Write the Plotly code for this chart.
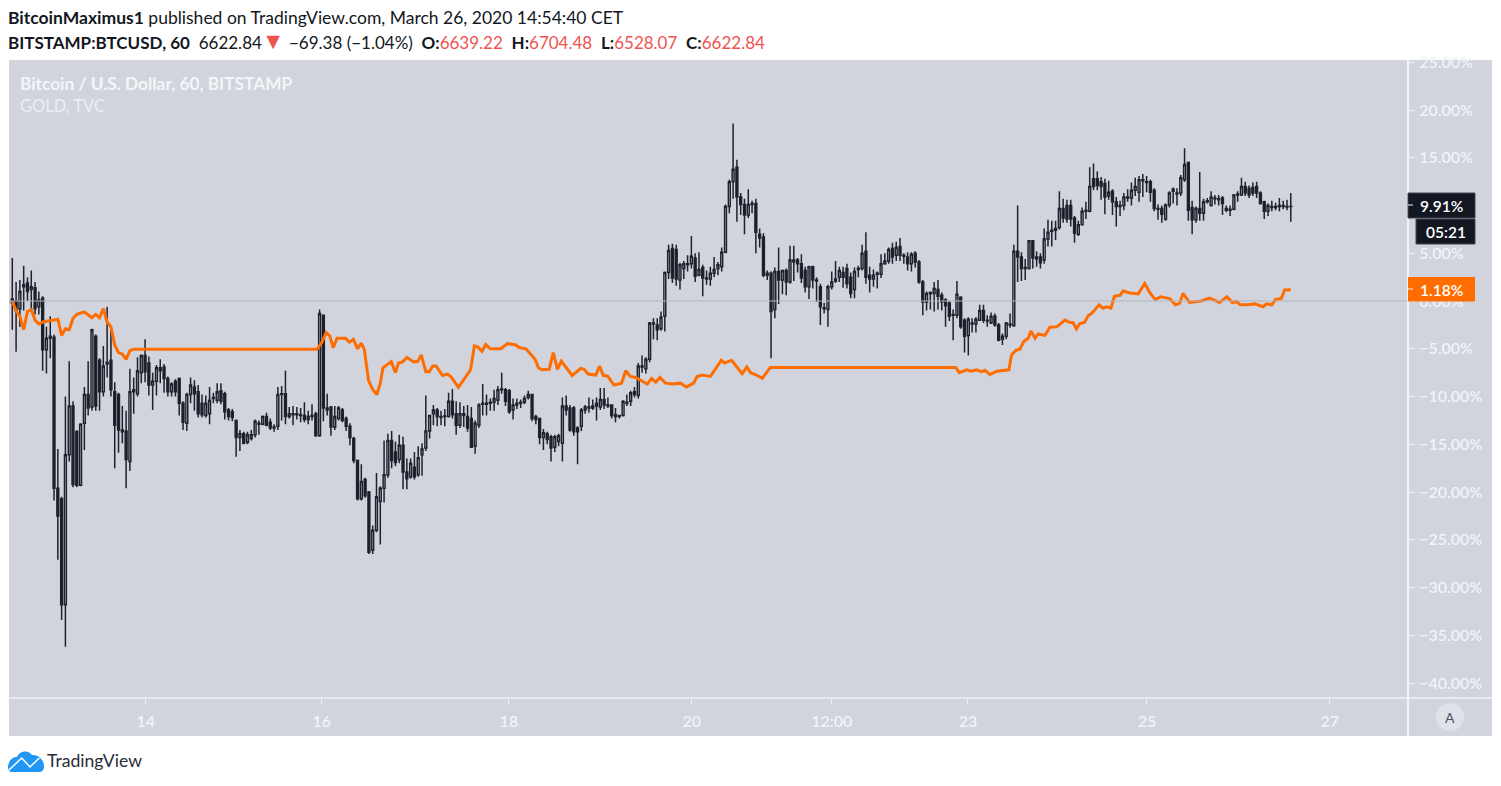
import plotly.graph_objects as go

# BTCUSD hourly candles, % change from first bar
bar_open = [
    -0.2, 0, -0.8, 1.5, 1.9, 1.2, 1.4, -0.6, 0.3, -5.1,
    -3.9, -3.8, -19.6, -20.7, -31.8, -16.1, -11, -13.7, -19.3, -12.8,
    -9.8, -11.1, -3.7, -6.2, -9.5, -6.6, -6.2, -9.5, -9.8, -13.5,
    -13.6, -16.8, -9.5, -9.7, -7.5, -5.7, -6.5, -8.8, -8.4, -7,
    -6.9, -8.1, -9.5, -8.4, -8.1, -10.7, -12.8, -9.8, -9, -9.5,
    -10.7, -12, -11.8, -10.2, -10.4, -9.4, -9.7, -11.4, -11.6, -12.5,
    -14.3, -13.9, -14.8, -14.4, -14, -12.9, -12.9, -12.1, -12.7, -13.3,
    -13.1, -9.8, -9.7, -12.1, -11.8, -11.9, -11.9, -12, -12.4, -12.1,
    -11.8, -14.1, -1.5, -11.2, -11.1, -13.2, -12.3, -11.4, -12.3, -13.1,
    -14.4, -16.7, -20.7, -18.7, -20, -26.1, -24, -21, -19.6, -18.2,
    -14.6, -15.8, -16.6, -15.1, -17.9, -18.4, -17.4, -18.2, -16.1, -15.4,
    -13.6, -11.8, -11.4, -12.1, -12.1, -12.1, -10.5, -11.8, -13, -12,
    -12.1, -12.3, -15.2, -13, -10.8, -10.7, -10.7, -10.6, -10.4, -9.2,
    -9.3, -9.4, -11.4, -10.9, -10.7, -10.6, -10.1, -9.8, -12.1, -12.3,
    -14.3, -13.9, -14.2, -15.3, -14.7, -14.9, -11, -11.2, -11.2, -13.3,
    -13.1, -11.4, -11.2, -11.2, -11, -11.1, -10.3, -10.9, -10.9, -11.9,
    -12.1, -12, -10.6, -10.5, -9.5, -9.9, -6.9, -7.1, -6.1, -2.3,
    -2.5, -2.9, -1.6, 3, 5.5, 5.4, 2.2, 3.4, 3.8, 3.9,
    4.5, 2.7, 3.5, 2.4, 2.3, 2.9, 3.4, 3.6, 5.1,
    9.9, 12.5, 14, 10.9, 10.1, 9, 10.1, 10.2, 7, 6.7,
    2.9, 2.9, -0.9, 3.1, 2.2, 3.2, 2, 4.3, 4.3, 3.9,
    3.2, 1.5, 3.6, 2.2, 1.5, -0.8, -0.9, 1.5, 2.1, 2.5, 3,
    3.4, 2.5, 1.2, 3.4, 3.4, 5.2, 2.7, 2.3, 2.8, 2.8,
    3.9, 4.2, 5.5, 4.8, 5.7, 4.8, 4.6, 3.9, 5, 4.1,
    2, -0.1, 0.9, 0.8, 1.2, 0.6, 0.1, -0.2, -1.5, -1.5,
    0.4, -2, -3.6, -2.3, -2.4, -2, -1, -2, -2.3, -1.6,
    -2.5, -4, -3.7, -2.5, -2.6, 5.2, 4.6, 3.5, 3.4, 6.3,
    4.4, 4.6, 4.3, 6.5, 7.3, 7.4, 7.7, 9.7, 10, 10,
    8.7, 7, 8, 9.4, 9.4, 12.8, 12.8, 12.5, 12.3, 11,
    11.5, 10.4, 9.9, 10, 10.8, 10.8, 11.6, 11.4, 12.7, 12.5,
    12.5, 11.6, 9.7, 9.7, 8.6, 10.05, 11.5, 11.3, 11.3, 12.7,
    14.5, 9.8, 8.5, 9.7, 9.2, 10.4, 10, 10.7, 10.6, 10.8,
    9.7, 9.5, 9.6, 11.1, 11.1, 12, 11.8, 11.9, 12, 11.3,
    10.4, 9.4, 9.9, 9.8, 9.9, 10, 9.9, 9.9,
]
bar_high = [
    4.5, 2, 2.2, 3.7, 2.5, 3.2, 2, 1, 0.5, -2.7,
    -1.6, -3.5, -15.5, -20.5, -10, -6.3, -10.5, -13.5, -12.8, -9,
    -6.3, -2.9, -3.5, -6, -4.7, -0.6, -2.8, -8.5, -9.6, -11,
    -11.5, -7.1, -8, -5.9, -5.6, -4, -5.8, -7.5, -6.7, -6.1,
    -6.6, -7.9, -8.5, -8.2, -8, -10.5, -9.6, -8, -8.3, -8.8,
    -9.8, -9.9, -9, -9.6, -8.6, -8.6, -9.5, -11.2, -11.3, -12.4,
    -13.5, -13.7, -13.7, -13.5, -12.4, -12.5, -12, -11.7, -12.3, -12.9,
    -9, -8.9, -7.3, -11.1, -11, -11.1, -11.2, -10.6, -11.5, -10.8,
    -11.6, -0.9, -1.4, -9.7, -11, -11, -11, -11.2, -12.1, -12.8,
    -14.2, -16.6, -17.1, -18.5, -19.9, -23.5, -18, -19.4, -14.6, -13.9,
    -13.6, -14.7, -14, -14.2, -16.5, -16.5, -15.8, -15.2, -14.9, -9.9,
    -11.9, -10.9, -11.2, -11.5, -11.3, -9.6, -9.2, -10.5, -10.6, -11,
    -10.9, -11.1, -12.5, -10.7, -8.7, -9.8, -10.2, -9.3, -8.9, -7.5,
    -9.1, -9.2, -10.2, -10.2, -10.3, -9.9, -9.4, -9.7, -11.9, -12.2,
    -13.4, -13.7, -14, -14, -13.9, -10.1, -9.9, -10.9, -11, -13.1,
    -11.2, -10.9, -10.1, -10.3, -10.1, -9.1, -9.1, -10.1, -10.8, -11.2,
    -11.9, -10.4, -9.8, -9.4, -9, -6.5, -5.7, -5.9, -2.2, -1.8,
    -1.8, -1.1, 3.1, 5.9, 6, 5.9, 4, 4.2, 4.8, 6.8,
    5, 5.1, 3.8, 3.2, 3.6, 4.6, 4.1, 5.6, 10.1,
    12.7, 18.6, 14.8, 11.3, 10.7, 11.7, 10.5, 10.7, 7.6, 7.1,
    3.2, 3.1, 3.5, 5.6, 3.3, 3.4, 5.8, 5.8, 4.5, 4.9,
    3.6, 3.7, 3.7, 2.5, 1.8, -0.2, 1.7, 3.1, 4.2, 3.6, 3.6,
    3.9, 3, 3.5, 3.7, 5.9, 7.2, 3.6, 3.3, 3.1, 4.9,
    5, 5.6, 6.1, 6.2, 6.6, 5, 5.1, 5.1, 5.2, 4.3,
    2.2, 1, 1, 2, 2.2, 0.9, 0.3, 0, -0.9, 2.1,
    0.5, -1.8, -1.7, -1.8, -1.7, -0.4, -0.4, -1.5, -1.2, -1.3,
    -2.3, -3.4, -2.2, -1.3, 5.9, 10, 5.1, 4.4, 6.4, 6.4,
    5.2, 5, 7.6, 8.5, 8.4, 8.4, 11.5, 10.7, 10.6, 10.6,
    8.9, 8.4, 9.8, 10.4, 14, 14.4, 13.6, 13, 12.8, 12.6,
    11.7, 10.9, 10.5, 11.3, 11.7, 12.4, 12.9, 13.1, 13.3, 13.1,
    12.7, 11.8, 10.1, 10, 10.2, 11.5, 11.9, 11.8, 13.2, 16,
    14.6, 10.5, 9.9, 13.5, 10.7, 10.8, 11.5, 11.1, 11.1, 11,
    10, 10, 11.2, 11.5, 12.9, 12.5, 12.1, 12.4, 12.5, 11.5,
    10.5, 10.2, 10.5, 10.3, 10.8, 10.5, 10.6, 11.3,
]
bar_low = [
    -3, -5.3, -2.7, -1, 0, -1, -1.4, -1.4, -7.3, -7.6,
    -6, -20.9, -27.1, -33.4, -36.2, -16.8, -19.5, -19.5, -19.4, -15.6,
    -12, -11.5, -11.5, -11.5, -10, -8, -10, -17.5, -15.9, -14.9,
    -19.6, -17.8, -11.8, -10, -8.6, -8.5, -9.9, -11.4, -9.9, -8.6,
    -9.6, -10, -10, -10, -12, -13.5, -13.6, -10.7, -11.5, -12.2,
    -12.2, -12.2, -12.9, -10.7, -10.7, -10.8, -12.4, -12.5, -12.6, -16.3,
    -15.7, -15, -15, -14.6, -14.3, -14, -13, -13.1, -13.5, -13.7,
    -13.5, -12.5, -12.9, -12.3, -13, -12.4, -12.7, -12.7, -12.9, -12.5,
    -14.2, -14.2, -12.6, -12, -14.1, -13.5, -12.5, -12.7, -13.6, -15.1,
    -17, -20.9, -20.9, -20.6, -26.5, -26.5, -24.2, -25.5, -21.1, -18.5,
    -17.5, -17.3, -17, -19.7, -19.7, -18.6, -18.7, -18.4, -18.3, -15.7,
    -14.4, -13, -13.1, -13, -13.1, -12.2, -12.3, -14, -13.3, -13.2,
    -13.7, -15.4, -16, -13.3, -12, -12, -11.5, -11.5, -10.9, -9.7,
    -11, -11.8, -12.4, -11.3, -11.2, -10.8, -10.3, -12.6, -12.9, -15,
    -15.6, -15, -16.8, -15.8, -15.2, -16.8, -12, -13.7, -14.1, -17.1,
    -13.6, -11.8, -11.7, -11.4, -12.5, -11.4, -11.3, -11.2, -12.3, -12.7,
    -12.3, -12.1, -11, -11, -10.1, -10.2, -7.5, -7.6, -6.4, -4,
    -4.1, -3.1, -3.2, 2.3, 1.9, 1.6, 1.2, 2.3, 3.1, 3.4,
    2, 2.6, 0.5, 1.7, 1.6, 2.5, 2.7, 3.1, 5,
    9.2, 10.7, 8.3, 9, 7, 8.7, 9.2, 5, 5.6, 2.5,
    2.2, -6, -1.8, -0.3, 0.7, 0.6, 1.8, 2.1, 3, 1.9,
    0.9, 0.2, 1.3, -0.1, -2.5, -1.3, -2.7, 1.2, 1.9, 2, 1.4,
    1.3, 0.3, 0.3, 2.5, 3.2, 1.8, 0.9, 1.5, 1.3, 2.4,
    3.8, 3.9, 3.9, 4.2, 4.2, 3.9, 3.2, 3.1, 3.5, 1.8,
    -1.5, -1, -0.9, -1.1, -0.9, -1, -2.7, -2.1, -4.1, -1.8,
    -2.9, -5.4, -5.7, -3.3, -3.3, -2.1, -2.3, -2.7, -2.4, -2.7,
    -4.2, -4.6, -4, -2.8, -2.7, 2, 2.1, 2.2, 3.3, 3.4,
    3.6, 3.4, 3.9, 5.7, 5.7, 6.4, 7.5, 8.2, 8.2, 7.8,
    6.1, 6.8, 7.9, 8.6, 9.3, 11.6, 11.6, 10.6, 9.1, 10.6,
    9, 7.8, 8.9, 9.5, 10.4, 10, 11, 10.4, 10.9, 11.4,
    10.4, 9.4, 8.5, 8.2, 8.4, 9.8, 10.2, 10, 11, 12.5,
    8.4, 7, 8.2, 8.4, 8.4, 10.2, 9.9, 10.1, 10, 9,
    9.3, 8.9, 9.5, 10.4, 11, 11, 10.8, 11, 10.8, 10.1,
    8.6, 8.9, 9.4, 9.5, 9.4, 9.6, 9.5, 8.3,
]
bar_close = [
    0.2, -1, 1, 1.7, 1, 1.5, -0.8, 0.1, -5.1, -3.9,
    -3.7, -19.6, -22.5, -31.8, -16.1, -11, -19.2, -19.3, -12.9, -9.8,
    -11.2, -3, -11, -9.5, -6.8, -6.4, -9.3, -13, -13.5, -13.7,
    -16.6, -9.5, -9.3, -7.3, -5.7, -7.4, -8.8, -8.4, -7, -7.3,
    -8.1, -9.5, -8.7, -9.5, -10.7, -12.7, -9.8, -8.8, -9.7, -11.8,
    -11.9, -10.7, -10.4, -10.1, -9.5, -10.5, -11.6, -12.1, -12.2, -14.3,
    -13.9, -14.9, -14, -14, -12.6, -12.8, -12.1, -13, -13.3, -13.2,
    -9.8, -9.7, -12.1, -11.8, -11.9, -11.8, -12, -12.4, -12.1, -12,
    -14.1, -1.3, -11.2, -11.4, -13.2, -12.1, -11.2, -12.5, -13.1, -14.3,
    -16.7, -20.7, -18.9, -20.4, -26.3, -24, -20.5, -19.6, -18.2, -14.6,
    -16.7, -16.9, -15.1, -17.9, -18.6, -17, -18.4, -16.4, -15.5, -13.6,
    -12, -11.4, -12.1, -12.2, -12.05, -10.5, -11.9, -13, -11.8, -11.8,
    -13.3, -15.3, -12.8, -10.9, -10.7, -10.8, -10.6, -10.2, -9.3, -9.3,
    -10.5, -11.6, -10.9, -10.7, -10.6, -10.2, -9.8, -12.3, -12.4, -14.3,
    -13.8, -14.5, -15.4, -14.2, -14.1, -11, -11.4, -13.5, -13.7, -13.7,
    -11.4, -11.1, -11.1, -11, -10.7, -10.3, -10.9, -11, -12, -12.1,
    -12, -10.5, -10.7, -9.6, -9.8, -6.8, -6.8, -6.1, -2.3, -2.4,
    -3, -1.7, 3, 5.3, 2.4, 2.3, 3.8, 3.9, 3.9, 4.7,
    2.6, 3.3, 2.4, 2.3, 2.9, 3.3, 3.8, 5.1, 9.9,
    12.5, 13.8, 10.9, 10.1, 9, 10.1, 10.2, 7.2, 6.6, 2.7,
    2.7, -1.1, 3.1, 2.2, 3.2, 2, 4.3, 4.1, 3.9, 2.4,
    1.5, 3.6, 2.2, 2.1, -0.6, -0.7, 1.5, 2, 2.3, 3.2, 2.5,
    1.8, 0.8, 3.1, 3.3, 5, 2.5, 2.3, 2.7, 2.9, 3.9,
    4.2, 5.4, 4.6, 5.6, 4.8, 4.7, 3.9, 4.9, 4.1, 2,
    -0.1, 0.8, 0.8, 1.3, 0.5, -0.1, -0.5, -1.6, -1.4, 0.7,
    -2.7, -3.7, -1.9, -2.4, -1.9, -1, -2, -2.1, -1.6, -2.5,
    -4.1, -3.7, -2.3, -2.4, 5.2, 4.6, 3.4, 3.4, 6.3, 4.5,
    4.6, 4, 6.5, 7.2, 7.4, 7.6, 9.7, 8.7, 8.6, 8.6,
    7.1, 8, 9.4, 9.5, 12, 12, 12.1, 12, 10.9, 11.4,
    10.4, 9.9, 10, 10.9, 10.9, 11.6, 12, 12.7, 12.6, 12.4,
    11.4, 9.7, 9.6, 9.1, 10.05, 11.3, 11.7, 11.2, 12.9, 14.3,
    9.5, 8.5, 9.7, 9.2, 10.4, 10.5, 10.9, 10.8, 10.7, 10.2,
    9.5, 9.6, 11.1, 11.2, 12, 11.3, 11.1, 11.3, 11.3, 10.2,
    9.4, 10, 9.8, 9.9, 10, 9.9, 9.85, 9.91,
]
bars = list(range(len(bar_close)))

# gold comparison line, as vertices of the drawn line
gold_bar = [
    0, 1.1, 2, 3, 4, 5, 6, 7, 8, 10, 12, 13, 14, 15, 16, 17, 19, 21, 22, 23, 24, 25, 26, 27, 28, 29, 30, 31, 32,
    80.3, 81.7, 82.7, 83.7, 84.6, 85.6, 87.8, 88.9, 89.9, 91, 92, 92.8, 93.9, 95, 96.1, 97, 97.7, 99.9, 101,
    101.8, 102.8, 104, 105.7, 106.8, 107.8, 109, 109.9, 110.8, 111.7, 113.4, 114.7, 115.6, 117.6, 120.8, 121.8,
    122.7, 123.8, 124.8, 126, 128.8, 130.5, 132.7, 133.8, 135.4, 137.8, 138.7, 139.7, 141.5, 142.6, 143.7, 144.7,
    147.6, 149.8, 150.7, 151.8, 153.8, 154.8, 155.8, 156.9, 158.6, 160.6, 161.7, 162.9, 164.3, 167.4, 168.5,
    169.6, 170.7, 172.2, 174, 176.1, 177.7, 179.6, 180.5, 181.8, 184, 186.9, 187.8, 189.6, 192.4, 193.6, 194.6,
    195.9, 197.7, 199.8, 248.7, 249.6, 251.6, 252.7, 254.2, 255.5, 256.4, 257.7, 259.5, 262.7, 263.4, 264.6,
    265.6, 266.6, 267.8, 268.5, 269.6, 270.4, 272.2, 273.5, 275.3, 277.5, 278.8, 279.6, 280.5, 281.4, 282.6,
    283.6, 284.5, 286.5, 287.5, 288.4, 289.6, 290.5, 292, 292.8, 294.6, 296.8, 298.5, 299.9, 301.3, 302.7,
    305.1, 306.6, 307.7, 308.6, 310.3, 313.4, 315.6, 318.2, 320.2, 321.6, 322.6, 323.7, 325.7, 327.5, 329.7,
    330.6, 332, 333, 334.5, 335.4, 337,
]
gold_pct = [
    -0.07, -1.1, -1.6, -3, -1.1, -0.9, -2, -2.4, -2.2, -2.05, -1.9, -3.6, -2.9, -3, -1.8, -1.4, -1.15, -1.75, -1.4, -1.75, -0.8, -2.2, -2.7, -4.6, -5.4, -5.55, -6.1, -5.2, -5.06,
    -5.06, -4.26, -3.3, -3.66, -4.9, -3.9, -3.9, -4.3, -4, -5, -4.4, -5.1, -8.3, -9.25, -9.8, -8.6, -7, -6.35, -7.5,
    -6.5, -6.4, -5.9, -6.35, -6.35, -5.65, -7.4, -7.4, -6.8, -6.8, -7.8, -7.65, -7.9, -9.05, -7.2, -4.7,
    -4.8, -5.25, -4.55, -5, -5, -4.45, -4.6, -4.9, -5, -6.1, -7, -7.2, -7.15, -5.4, -7.15, -6.3,
    -7.8, -7.05, -7.15, -7.65, -7.75, -6.8, -7.8, -7.85, -8.8, -8.6, -7.3, -7.9, -8, -8.7, -8.1,
    -8.5, -8, -8.6, -8.7, -8.6, -9, -8.6, -7.9, -7.75, -7.9, -6.2, -6.5, -6.2, -7.6, -6.9, -7.5,
    -7.7, -8.1, -6.95, -6.95, -7.5, -7.2, -7.35, -7.2, -7.4, -7.25, -7.7, -7.35, -7.2, -5.65, -5.15,
    -5.05, -4.25, -3.9, -3.15, -3.9, -3.45, -3.6, -2.75, -2.7, -2, -2.25, -2.25, -2.9, -2.35, -2.25,
    -1.55, -1.3, -0.4, -0.75, -0.6, -0.75, 0.5, 0.6, 1.05, 0.85, 0.75, 1.85, 0.85, 0.15, 0.45,
    0.25, -0.4, -0.25, 0.8, -0.15, 0, 0.3, -0.15, 0.45, -0.15, -0.05, -0.4, -0.4, -0.3, -0.6,
    -0.3, -0.4, 0.17, 0.28, 1.15, 1.18,
]

y_ticks = [25, 20, 15, 10, 5, 0, -5, -10, -15, -20, -25, -30, -35, -40]
# the 10.00% label sits fully behind the last-price box in the reference
y_labels = ["25.00%", "20.00%", "15.00%", "", "5.00%", "0.00%", "−5.00%", "−10.00%",
            "−15.00%", "−20.00%", "−25.00%", "−30.00%", "−35.00%", "−40.00%"]
x_ticks = [35.2, 81.6, 130.9, 179.1, 216, 251.9, 299.1, 347.3]
x_labels = ["14", "16", "18", "20", "12:00", "23", "25", "27"]

W, H = 1501, 786
LEFT, RIGHT, TOP, BOTTOM = 9, 1408, 60, 698
PANEL = "#d1d4dc"
DARK = "#131722"
RED = "#ef5350"
ORANGE = "#ff6d00"
TICK = "#f0f3fa"
FONT = "Lato"


def px(x):
    return (x - LEFT) / (RIGHT - LEFT)


def py(y):
    return (BOTTOM - y) / (BOTTOM - TOP)


def box(x0, y0, x1, y1, color, line=None, layer="above", kind="rect"):
    return dict(type=kind, xref="paper", yref="paper", x0=px(x0), x1=px(x1), y0=py(y0), y1=py(y1),
                fillcolor=color, line=dict(color=line or color, width=1 if line else 0), layer=layer)


def rule(x0, y0, x1, y1, color, width=1):
    return dict(type="line", xref="paper", yref="paper", x0=px(x0), x1=px(x1), y0=py(y0), y1=py(y1),
                line=dict(color=color, width=width), layer="above")


def label(x, y, text, size, color, anchor="left", weight=None):
    return dict(xref="paper", yref="paper", x=px(x), y=py(y), text=text, showarrow=False,
                xanchor=anchor, yanchor="middle", font=dict(family=FONT, size=size, color=color, weight=weight))


def path(points):
    # M / C path in picture pixels -> paper coordinates
    parts = []
    for cmd, pts in points:
        parts.append(cmd + " ".join(f"{px(a):.5f},{py(b):.5f}" for a, b in pts))
    return " ".join(parts) + " Z"


fig = go.Figure()
fig.add_trace(go.Candlestick(
    x=bars, open=bar_open, high=bar_high, low=bar_low, close=bar_close,
    increasing=dict(fillcolor="#ffffff", line=dict(color="#1e222d", width=1.5)),
    decreasing=dict(fillcolor=DARK, line=dict(color="#1e222d", width=1.5)),
    whiskerwidth=0, showlegend=False, hoverinfo="skip",
))
fig.add_trace(go.Scatter(x=gold_bar, y=gold_pct, mode="lines", line=dict(color=ORANGE, width=3),
                         showlegend=False, hoverinfo="skip"))

cloud = [
    ("M", [(12, 772)]),
    ("C", [(8, 772), (7, 766), (9, 763)]),
    ("C", [(10, 759), (14, 757), (17, 757)]),
    ("C", [(19, 751), (28, 749), (32, 755)]),
    ("C", [(38, 754), (44, 760), (44, 766)]),
    ("C", [(44, 770), (42, 772), (39, 772)]),
]
tv_line = [("M", [(9, 770)]), ("L", [(21.7, 758)]), ("L", [(30, 767)]), ("L", [(39.3, 758)])]

shapes = [
    box(9, 60, 1492, 736, PANEL, layer="below"),
    rule(LEFT, 301, RIGHT, 301, "#b2b5be", 1),
    # axis lines run through the whole panel
    rule(RIGHT, 60, RIGHT, 736, TICK, 2),
    rule(9, 698, 1492, 698, TICK, 1.5),
    box(1408, 193, 1475, 218, DARK, line="#434651"),
    box(1416, 219, 1475, 244, DARK, line="#434651"),
    box(1408, 277, 1475, 301.5, ORANGE),
    rule(1408, 205, 1413, 205, TICK, 1),
    rule(1408, 289, 1413, 289, TICK, 1),
    box(1436, 703, 1464, 731, "#dfe2e9", kind="circle"),
    dict(type="path", xref="paper", yref="paper", path=path(cloud), fillcolor="#2196f3", line=dict(width=0), layer="above"),
    dict(type="path", xref="paper", yref="paper", path=path(tv_line).replace(" Z", ""), line=dict(color="#ffffff", width=1.5), layer="above"),
]

header = ("<b>BITSTAMP:BTCUSD, 60</b>  6622.84"
          f"<span style='color:{RED};font-size:23px'>▼</span> −69.38 (−1.04%)  <b>O:</b><span style='color:{RED}'>6639.22</span>"
          f"  <b>H:</b><span style='color:{RED}'>6704.48</span>  <b>L:</b><span style='color:{RED}'>6528.07</span>"
          f"  <b>C:</b><span style='color:{RED}'>6622.84</span>")

annotations = [
    label(6, 17, "<b>BitcoinMaximus1</b> published on TradingView.com, March 26, 2020 14:54:40 CET", 17.5, DARK),
    label(6, 40, header, 17, DARK),
    label(18, 84, "<b>Bitcoin / U.S. Dollar, 60, BITSTAMP</b>", 17.3, "#f4f5f8"),
    label(18, 106, "GOLD, TVC", 16.5, "#eceef3"),
    label(1442, 205.5, "9.91%", 15.5, "#ffffff", "center", 600),
    label(1446, 231.5, "05:21", 15.5, "#ffffff", "center", 600),
    label(1442, 289.5, "1.18%", 15.5, "#ffffff", "center", 600),
    label(1450, 717, "A", 14, "#50535e", "center"),
    label(45, 761, "TradingView", 17.6, "#2a2e39"),
]

fig.update_layout(
    width=W, height=H, autosize=False,
    margin=dict(l=LEFT, r=W - RIGHT, t=TOP, b=H - BOTTOM, pad=0),
    paper_bgcolor="#ffffff", plot_bgcolor=PANEL,
    font=dict(family=FONT),
    shapes=shapes, annotations=annotations,
    xaxis=dict(range=[-0.87, 367.9], rangeslider=dict(visible=False), showgrid=False, zeroline=False,
               tickmode="array", tickvals=x_ticks, ticktext=x_labels, ticks="outside", ticklen=5,
               tickcolor=TICK, tickwidth=1, ticklabelstandoff=4,
               tickfont=dict(family=FONT, size=16, color=TICK, weight=600)),
    yaxis=dict(range=[-41.57, 25.24], side="right", showgrid=False, zeroline=False,
               tickmode="array", tickvals=y_ticks, ticktext=y_labels, ticks="outside", ticklen=5,
               tickcolor=TICK, tickwidth=1, ticklabelstandoff=2,
               tickfont=dict(family=FONT, size=16, color=TICK, weight=600)),
)

assert len(bar_open) == len(bar_high) == len(bar_low) == len(bar_close)
assert len(gold_bar) == len(gold_pct)

fig.write_html("out.html", config=dict(displayModeBar=False),
               post_script="document.body.style.margin='0';")
